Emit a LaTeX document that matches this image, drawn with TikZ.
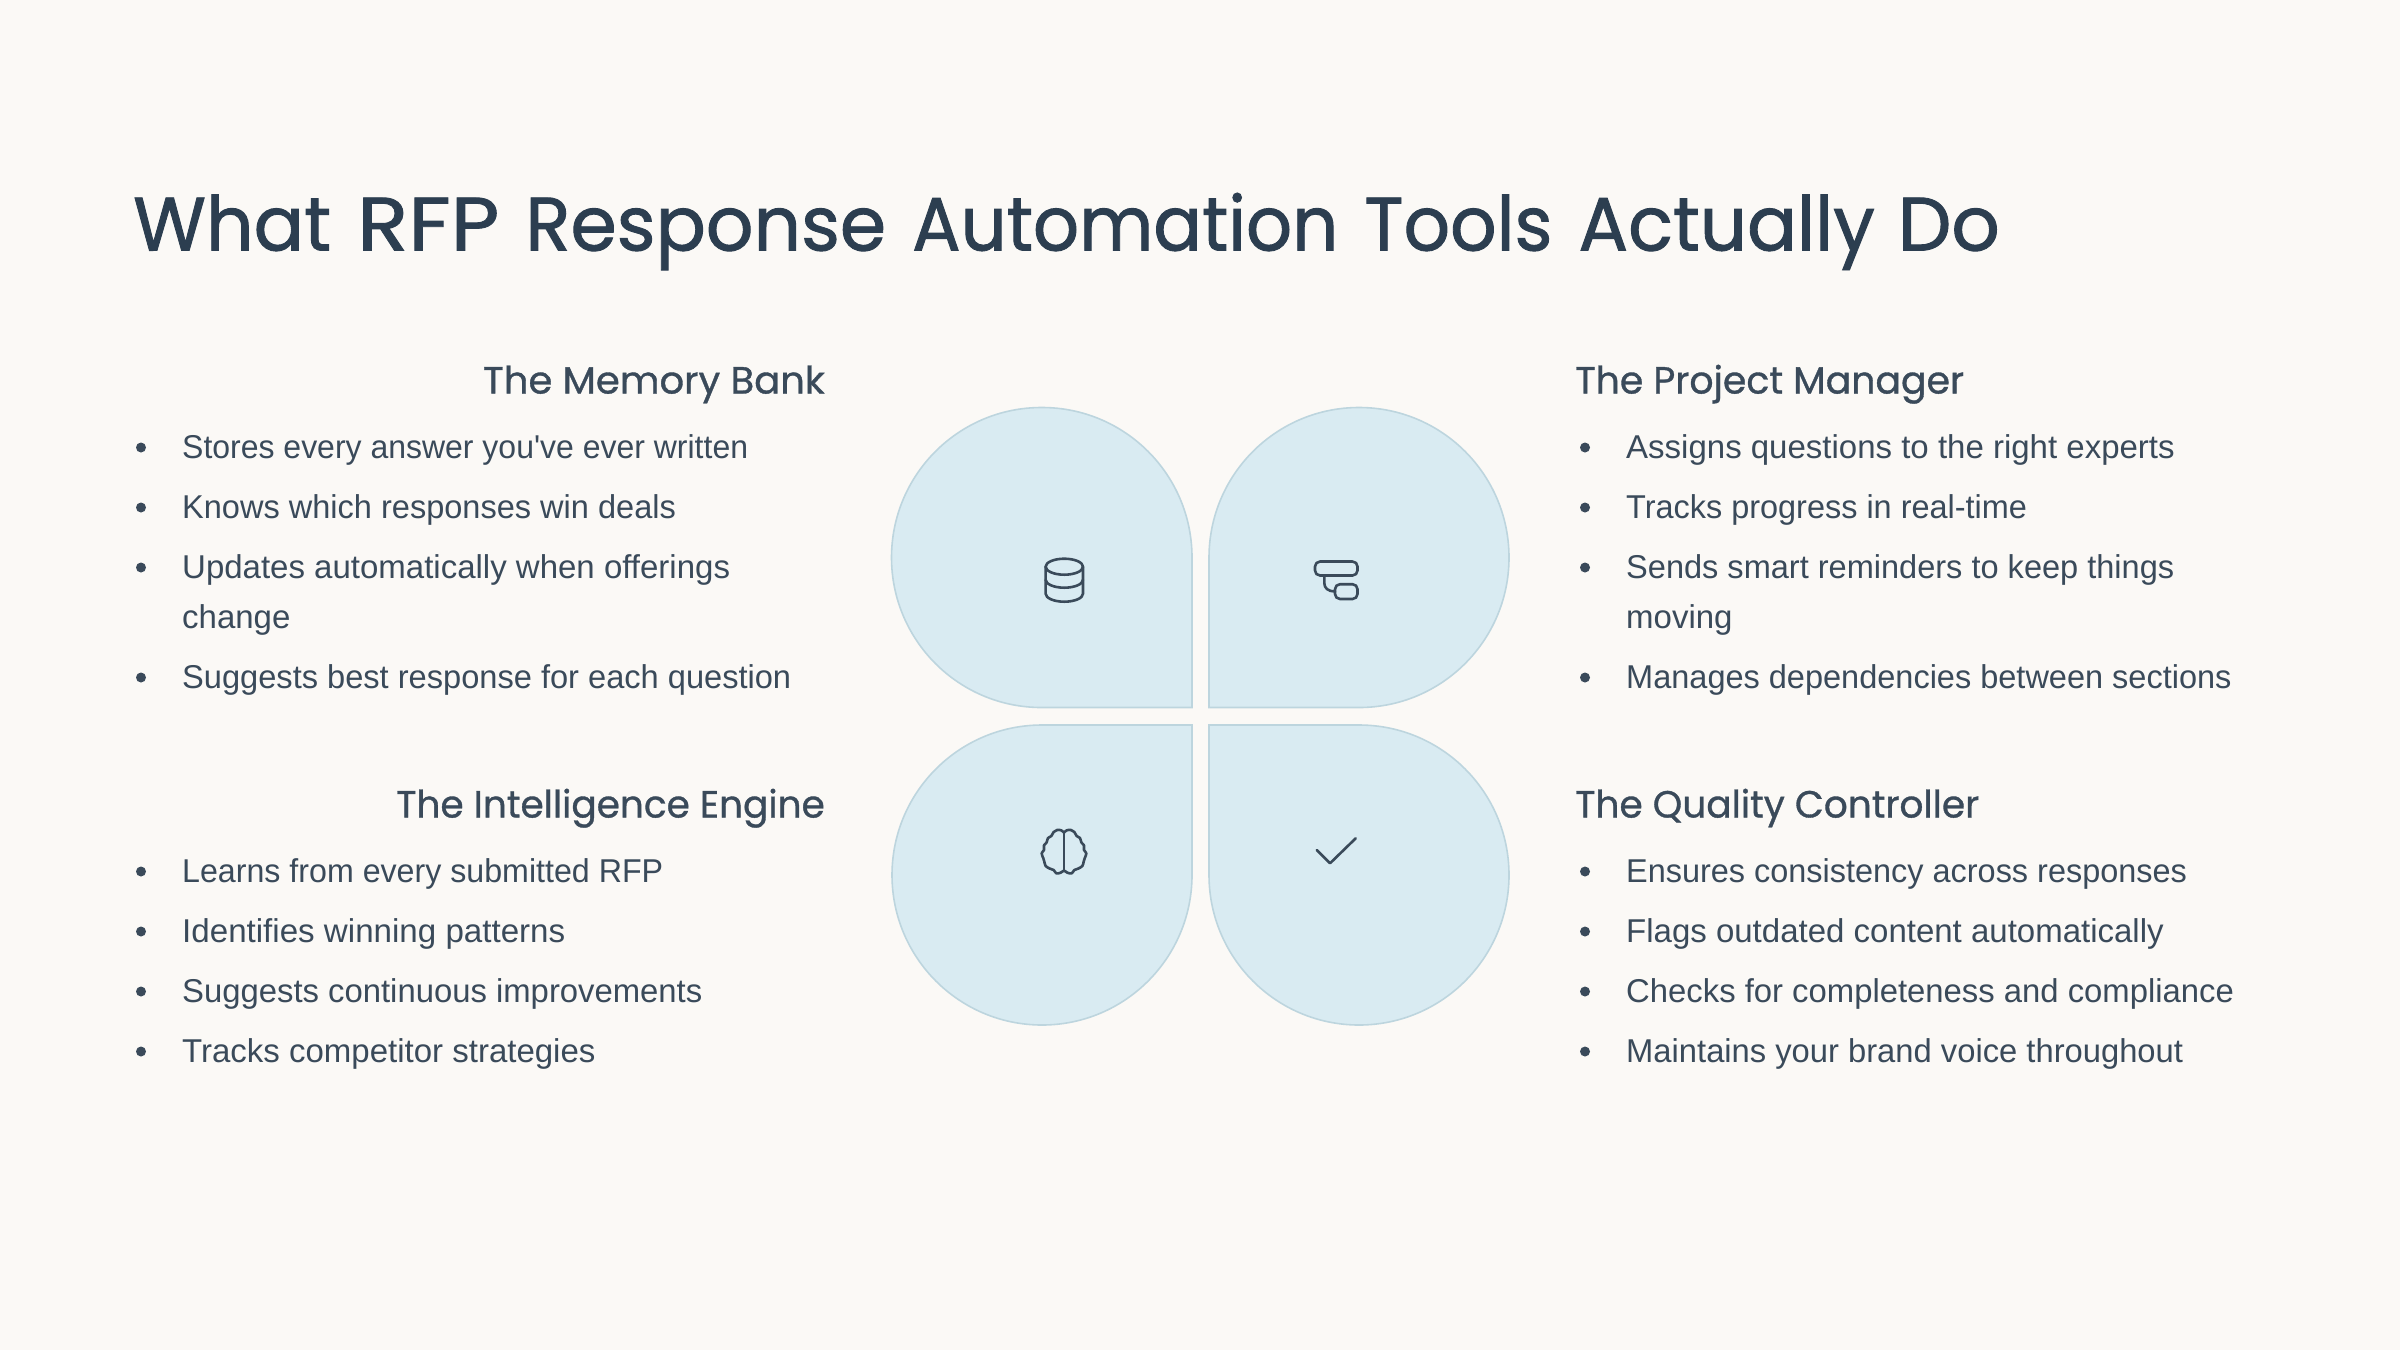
\documentclass[tikz,border=0pt]{standalone}
\usepackage{graphicx}
\usepackage{fontspec}
\setmainfont{Liberation Sans}
\newfontfamily\bodyf{Liberation Sans}
\newfontfamily\titlef[FakeBold=1.2]{Poppins}
\newfontfamily\headf[FakeBold=0.9]{Poppins}
\definecolor{bgc}{HTML}{FBF9F6}
\definecolor{petal}{HTML}{D9EBF2}
\definecolor{petaledge}{HTML}{BDD5DE}
\definecolor{ink}{HTML}{2C3E50}
\definecolor{bodyink}{HTML}{3A4A5A}
\tikzset{
  x=1pt,y=-1pt,
  petalshape/.style={fill=petal,draw=petaledge,line width=1.6pt,line join=miter},
  iconline/.style={draw=bodyink,line width=2.6pt,line cap=round,line join=round},
  bodytxt/.style={anchor=base west,inner sep=0pt,yshift=-0.8pt,text=bodyink,font=\bodyf\fontsize{33}{33}\selectfont},
  dot/.style={circle,fill=bodyink,inner sep=0pt,minimum size=10pt},
  headl/.style={anchor=base east,inner sep=0pt,text=bodyink,font=\headf\fontsize{37.8}{38}\selectfont},
  headr/.style={anchor=base west,inner sep=0pt,text=bodyink,font=\headf\fontsize{37.8}{38}\selectfont},
}
\newcommand{\itm}[5]{% name, x bullet, y baseline, x-scale, text
  \node[dot] (#1b) at (#2,#3-10) {};
  \node[bodytxt] (#1) at (#2+41,#3) {\scalebox{#4}[1]{#5}};
}
\newcommand{\tw}[2]{\scalebox{#1}[1]{#2}\hspace{26pt}}
\begin{document}
\begin{tikzpicture}
\useasboundingbox (0,0) rectangle (2400,1350);
\fill[bgc] (0,0) rectangle (2400,1350);
\node[anchor=base west,inner sep=0pt,text=ink,font=\titlef\fontsize{75.7}{76}\selectfont] (title) at (133,250.5) {\tw{.985}{What}\tw{1.11}{RFP}\tw{.983}{Response}\tw{.952}{Automation}\tw{.96}{Tools}\tw{.975}{Actually}\hspace{-3pt}\scalebox{1}[1]{Do}};
% petals
\draw[petalshape] (1041.5,407.5) arc[start angle=270,end angle=90,radius=150] -- (1192,707.5) -- (1192,557.5) arc[start angle=0,end angle=-90,radius=150] -- cycle;
\draw[petalshape] (1359,407.5) arc[start angle=-90,end angle=90,radius=150] -- (1209,707.5) -- (1209,557.5) arc[start angle=180,end angle=270,radius=150] -- cycle;
\draw[petalshape] (1192,725) -- (1192,875) arc[start angle=0,end angle=270,radius=150] -- cycle;
\draw[petalshape] (1209,725) -- (1209,875) arc[start angle=180,end angle=-90,radius=150] -- cycle;
% database icon
\draw[iconline] (1064.3,566.7) ellipse[x radius=18.7,y radius=8];
\draw[iconline] (1045.6,566.7) -- (1045.6,593.7) arc[start angle=180,end angle=0,x radius=18.7,y radius=8] -- (1083,566.7);
\draw[iconline] (1045.6,579.7) arc[start angle=180,end angle=0,x radius=18.7,y radius=8];
% tree icon
\draw[iconline,rounded corners=5pt] (1315,561.5) rectangle (1357.5,575.5);
\draw[iconline,rounded corners=5pt] (1335,584.2) rectangle (1357.5,599);
\draw[iconline] (1324.3,575.5) -- (1324.3,583) .. controls (1324.3,588) and (1328,591.5) .. (1335,591.5);
% brain icon
\begin{scope}[shift={(1020,810)},x=0.3333pt,y=-0.3333pt]
\draw[iconline,line width=2.6pt] plot[smooth,tension=0.6] coordinates {(132,68)(140,61)(153,60)(163,66)(170,78)(180,84)(184,97)(192,106)(192,120)(199,130)(194,145)(191,155)(187,168)(174,176)(163,180)(155,190)(142,188)(132,182)(122,188)(109,190)(101,180)(90,176)(77,168)(73,155)(70,145)(65,130)(72,120)(72,106)(80,97)(84,84)(94,78)(101,66)(111,60)(124,61)(132,68)};
\draw[iconline,line width=2.6pt] (132,68) -- (132,182);
\end{scope}
% check icon
\draw[iconline] (1316.7,850) -- (1330,863.3) -- (1355.7,838.3);
% headings
\node[headl] (h1) at (825,393.5) {\scalebox{1.02}[1]{The Memory Bank}};
\node[headl] (h2) at (825,817.5) {\scalebox{.991}[1]{The Intelligence Engine}};
\node[headr] (h3) at (1575,393.5) {The Project Manager};
\node[headr] (h4) at (1575,817.5) {\scalebox{.992}[1]{The Quality Controller}};
% left top
\itm{a1}{141}{457.5}{.969}{Stores every answer you've ever written}
\itm{a2}{141}{517.5}{.986}{Knows which responses win deals}
\itm{a3}{141}{577.5}{1}{Updates automatically when offerings}
\node[bodytxt] (a3b) at (182,627.5) {change};
\itm{a4}{141}{687.5}{.988}{Suggests best response for each question}
% left bottom
\itm{b1}{141}{881.5}{.975}{Learns from every submitted RFP}
\itm{b2}{141}{941.5}{1.004}{Identifies winning patterns}
\itm{b3}{141}{1001.5}{.995}{Suggests continuous improvements}
\itm{b4}{141}{1061.5}{1}{Tracks competitor strategies}
% right top
\itm{c1}{1585}{457.5}{1}{Assigns questions to the right experts}
\itm{c2}{1585}{517.5}{.983}{Tracks progress in real-time}
\itm{c3}{1585}{577.5}{.986}{Sends smart reminders to keep things}
\node[bodytxt] (c3b) at (1626,627.5) {moving};
\itm{c4}{1585}{687.5}{.985}{Manages dependencies between sections}
% right bottom
\itm{d1}{1585}{881.5}{.983}{Ensures consistency across responses}
\itm{d2}{1585}{941.5}{1}{Flags outdated content automatically}
\itm{d3}{1585}{1001.5}{.995}{Checks for completeness and compliance}
\itm{d4}{1585}{1061.5}{.992}{Maintains your brand voice throughout}
\end{tikzpicture}
\end{document}
